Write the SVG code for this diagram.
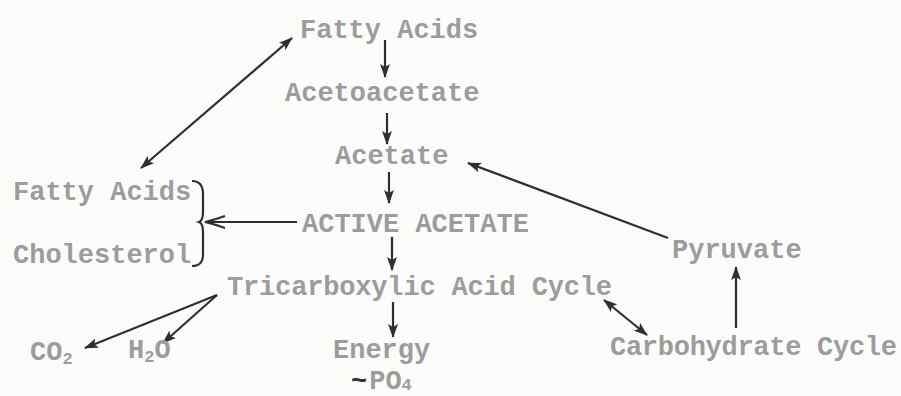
<svg xmlns="http://www.w3.org/2000/svg" width="901" height="396" viewBox="0 0 901 396">
<style>
text{font-family:"Liberation Mono","DejaVu Sans Mono",monospace;font-size:27px;font-weight:bold;fill:#9c9c9c}
.sub{font-size:17px}
.tl{fill:#2f2f2f}
.c{stroke:#2f2f2f;stroke-width:2.2;fill:none}
</style>
<defs>
<marker id="ah" viewBox="0 0 14 10" refX="13" refY="5" markerWidth="14" markerHeight="10" markerUnits="userSpaceOnUse" orient="auto-start-reverse">
<path d="M0,0 L14,5 L0,10 L3,5 Z" fill="#2f2f2f"/>
</marker>
<marker id="oh" viewBox="0 0 22 14" refX="21" refY="7" markerWidth="22" markerHeight="14" markerUnits="userSpaceOnUse" orient="auto">
<path d="M1,1 Q12,5 21,7 Q12,9 1,13" fill="none" stroke="#2f2f2f" stroke-width="2"/>
</marker>
</defs>
<rect width="901" height="396" fill="#fcfdfa"/>
<g id="connectors">
<line class="c" x1="292" y1="38" x2="141" y2="168" marker-start="url(#ah)" marker-end="url(#ah)"/>
<line class="c" x1="385" y1="40" x2="385" y2="77" marker-end="url(#ah)"/>
<line class="c" x1="387" y1="113" x2="387" y2="144" marker-end="url(#ah)"/>
<line class="c" x1="389" y1="172" x2="389" y2="203" marker-end="url(#ah)"/>
<line class="c" x1="392" y1="237" x2="392" y2="270" marker-end="url(#ah)"/>
<line class="c" x1="393" y1="302" x2="393" y2="337" marker-end="url(#ah)"/>
<line class="c" x1="217" y1="295" x2="85" y2="348" marker-end="url(#ah)"/>
<line class="c" x1="217" y1="295" x2="163" y2="343" marker-end="url(#ah)"/>
<line class="c" x1="604" y1="300" x2="647" y2="335" marker-start="url(#ah)" marker-end="url(#ah)"/>
<line class="c" x1="736" y1="328" x2="736" y2="267" marker-end="url(#ah)"/>
<line class="c" x1="668" y1="238" x2="468" y2="163" marker-end="url(#ah)"/>
<line class="c" x1="297" y1="222" x2="205" y2="222" marker-end="url(#oh)"/>
<path class="c" d="M192,181 C200,181 203,186 203,194 L203,212 C203,218 202,221 199,222 C202,223 203,226 203,232 L203,254 C203,262 200,266 192,266"/>
</g>
<g id="n-fatty-acids-top"><text x="300" y="38">Fatty Acids</text></g>
<g id="n-acetoacetate"><text x="285" y="101">Acetoacetate</text></g>
<g id="n-acetate"><text x="335" y="164">Acetate</text></g>
<g id="n-active-acetate"><text x="302" y="232">ACTIVE ACETATE</text></g>
<g id="n-tca"><text x="227" y="295" textLength="385">Tricarboxylic Acid Cycle</text></g>
<g id="n-fatty-acids-left"><text x="13" y="200">Fatty Acids</text></g>
<g id="n-cholesterol"><text x="13" y="263">Cholesterol</text></g>
<g id="n-co2"><text x="30" y="360">CO<tspan class="sub" dy="4">2</tspan></text></g>
<g id="n-h2o"><text x="128" y="358">H<tspan class="sub" dy="4">2</tspan><tspan dy="-4">O</tspan></text></g>
<g id="n-energy"><text x="333" y="358">Energy</text><text x="351" y="389"><tspan class="tl">~</tspan><tspan dx="2">PO</tspan><tspan class="sub" dy="1">4</tspan></text></g>
<g id="n-pyruvate"><text x="672" y="258">Pyruvate</text></g>
<g id="n-carbohydrate"><text x="610" y="355" textLength="287">Carbohydrate Cycle</text></g>
</svg>
